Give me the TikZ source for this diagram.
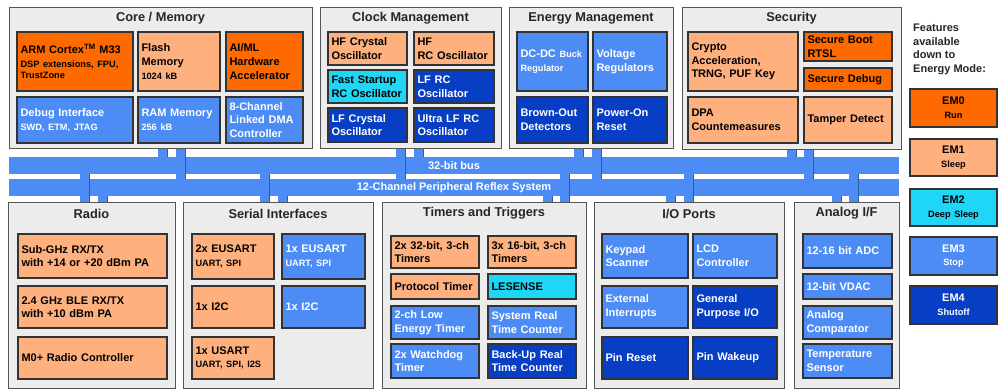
\documentclass[tikz,border=0pt]{standalone}
\usepackage{fontspec}
\setmainfont{Liberation Sans}
\usetikzlibrary{backgrounds}
\definecolor{panelfill}{HTML}{ECECEC}
\definecolor{paneledge}{HTML}{555555}
\definecolor{boxedge}{HTML}{333333}
\definecolor{emzero}{HTML}{FF6A00}
\definecolor{emone}{HTML}{FFB07F}
\definecolor{emtwo}{HTML}{20D6F7}
\definecolor{emthree}{HTML}{4D8CF5}
\definecolor{emfour}{HTML}{073EC4}
\definecolor{busblue}{HTML}{4D8CF5}

\tikzset{
  group/.style={draw=paneledge,fill=panelfill,line width=1pt,inner sep=0pt},
  gtitle/.style={font=\fontsize{12.8}{14}\selectfont\bfseries,text=black!85,inner sep=0pt},
  unit/.style={draw=boxedge,line width=1.3pt,inner xsep=3.5pt,inner ysep=0pt,align=left,
    font=\fontsize{11}{13.7}\selectfont\bfseries},
  m-run/.style={unit,fill=emzero},
  m-sleep/.style={unit,fill=emone},
  m-deep/.style={unit,fill=emtwo},
  m-stop/.style={unit,fill=emthree,text=white},
  m-off/.style={unit,fill=emfour,text=white},
  emkey/.style={align=center},
  modenote/.style={anchor=north west,align=left,inner sep=0pt,
    font=\fontsize{11}{13.5}\selectfont\bfseries,text=black!85},
  bus/.style={fill=busblue,minimum width=890pt,minimum height=17pt,inner sep=0pt,
    text=white,font=\fontsize{11}{13}\selectfont\bfseries},
  stubshade/.style={draw=busblue!65!black,line width=0.7pt}
}

\newcommand{\subf}{\fontsize{9.2}{11}\selectfont}
% box from (x1,y1) to (x2,y2): name, x1, y1, x2, y2, style, text
\newcommand{\unitbox}[7]{%
  \pgfmathsetmacro{\bxw}{#4-#2-7}%
  \pgfmathsetmacro{\bxh}{#5-#3}%
  \node[#6,text width=\bxw pt,minimum height=\bxh pt] (#1) at ({(#2+#4)/2},{(#3+#5)/2}) {#7};}
% grey panel with its heading
\newcommand{\groupbox}[6]{%
  \pgfmathsetmacro{\bxw}{#4-#2}%
  \pgfmathsetmacro{\bxh}{#5-#3}%
  \node[group,minimum width=\bxw pt,minimum height=\bxh pt] (#1) at ({(#2+#4)/2},{(#3+#5)/2}) {};
  \node[gtitle] (#1-title) at ({(#2+#4)/2},#3+11.5) {#6};}
% vertical bus tap
\newcommand{\busstub}[3]{%
  \pgfmathsetmacro{\sxr}{#1+9}%
  \fill[busblue] (#1,0 |- #2) rectangle (\sxr,0 |- #3);
  \draw[stubshade] (\sxr,0 |- #2) -- (\sxr,0 |- #3);}

\begin{document}
\begin{tikzpicture}[x=1pt,y=-1pt]
  \useasboundingbox (0,0) rectangle (1004,391);

  % top row
  \groupbox{core}{9}{7}{312}{148}{Core / Memory}
  \unitbox{cortex}{17}{32}{133}{91}{m-run}{ARM Cortex\textsuperscript{TM} M33\\{\subf DSP extensions, FPU,}\\[-2.5pt]{\subf TrustZone}}
  \unitbox{flash}{138}{32}{220}{91}{m-sleep}{Flash\\Memory\\{\subf 1024 kB}}
  \unitbox{aiml}{226}{32}{303}{91}{m-run}{AI/ML\\Hardware\\Accelerator}
  \unitbox{debug}{17}{97}{133}{143}{m-stop}{Debug Interface\\{\subf SWD, ETM, JTAG}}
  \unitbox{ram}{138}{97}{220}{143}{m-stop}{RAM Memory\\{\subf 256 kB}}
  \unitbox{dma}{226}{97}{303}{143}{m-stop}{8-Channel\\Linked DMA\\Controller}

  \groupbox{clock}{320}{7}{501}{148}{Clock Management}
  \unitbox{hfxo}{328}{32}{407}{65}{m-sleep}{HF Crystal\\Oscillator}
  \unitbox{hfrco}{414}{32}{494}{65}{m-sleep}{HF\\RC Oscillator}
  \unitbox{fsrco}{328}{70}{407}{103}{m-deep}{Fast Startup\\RC Oscillator}
  \unitbox{lfrco}{414}{70}{494}{103}{m-off}{LF RC\\Oscillator}
  \unitbox{lfxo}{328}{108}{407}{142}{m-off}{LF Crystal\\Oscillator}
  \unitbox{ulfrco}{414}{108}{494}{142}{m-off}{Ultra LF RC\\Oscillator}

  \groupbox{energy}{509}{7}{673}{148}{Energy Management}
  \unitbox{dcdc}{517}{32}{588}{91}{m-stop}{DC-DC {\subf Buck}\\{\subf Regulator}}
  \unitbox{vreg}{593}{32}{667}{91}{m-stop}{Voltage\\Regulators}
  \unitbox{bod}{517}{97}{588}{143}{m-off}{Brown-Out\\Detectors}
  \unitbox{por}{593}{97}{667}{143}{m-off}{Power-On\\Reset}

  \groupbox{security}{682}{7}{901}{149}{Security}
  \unitbox{crypto}{688}{32}{798}{91}{m-sleep}{Crypto\\Acceleration,\\TRNG, PUF Key}
  \unitbox{sboot}{804}{32}{892}{61}{m-run}{Secure Boot\\RTSL}
  \unitbox{sdebug}{804}{68}{892}{91}{m-run}{Secure Debug}
  \unitbox{dpa}{688}{97}{798}{143}{m-sleep}{DPA\\Countemeasures}
  \unitbox{tamper}{804}{97}{892}{143}{m-sleep}{Tamper Detect}

  % bottom row
  \groupbox{radio}{8}{202}{175}{388}{Radio}
  \unitbox{subghz}{18}{234}{167}{278}{m-sleep}{Sub-GHz RX/TX\\with +14 or +20 dBm PA}
  \unitbox{ble}{18}{286}{167}{328}{m-sleep}{2.4 GHz BLE RX/TX\\with +10 dBm PA}
  \unitbox{mzero}{18}{337}{167}{379}{m-sleep}{M0+ Radio Controller}

  \groupbox{serial}{183}{202}{373}{388}{Serial Interfaces}
  \unitbox{eusartA}{192}{234}{274}{279}{m-sleep}{2x EUSART\\{\subf UART, SPI}}
  \unitbox{eusartB}{282}{234}{365}{279}{m-stop}{1x EUSART\\{\subf UART, SPI}}
  \unitbox{iicA}{192}{286}{274}{328}{m-sleep}{1x I2C}
  \unitbox{iicB}{282}{286}{365}{328}{m-stop}{1x I2C}
  \unitbox{usart}{192}{337}{274}{379}{m-sleep}{1x USART\\{\subf UART, SPI, I2S}}

  \groupbox{timers}{382}{202}{586}{388}{Timers and Triggers}
  \unitbox{timerA}{391}{236}{479}{268}{m-sleep}{2x 32-bit, 3-ch\\Timers}
  \unitbox{timerB}{488}{236}{576}{268}{m-sleep}{3x 16-bit, 3-ch\\Timers}
  \unitbox{prot}{391}{274}{479}{299}{m-sleep}{Protocol Timer}
  \unitbox{lesense}{488}{274}{576}{299}{m-deep}{LESENSE}
  \unitbox{letimer}{391}{306}{479}{339}{m-stop}{2-ch Low\\Energy Timer}
  \unitbox{sysrtc}{488}{306}{576}{339}{m-stop}{System Real\\Time Counter}
  \unitbox{wdog}{391}{344}{479}{378}{m-stop}{2x Watchdog\\Timer}
  \unitbox{burtc}{488}{344}{576}{378}{m-off}{Back-Up Real\\Time Counter}

  \groupbox{ioports}{594}{202}{784}{388}{I/O Ports}
  \unitbox{keypad}{602}{234}{688}{278}{m-stop}{Keypad\\Scanner}
  \unitbox{lcd}{693}{234}{777}{278}{m-stop}{LCD\\Controller}
  \unitbox{extint}{602}{286}{688}{328}{m-stop}{External\\Interrupts}
  \unitbox{gpio}{693}{286}{777}{328}{m-off}{General\\Purpose I/O}
  \unitbox{pinrst}{602}{337}{688}{379}{m-off}{Pin Reset}
  \unitbox{pinwake}{693}{337}{777}{379}{m-off}{Pin Wakeup}

  \groupbox{analog}{794}{202}{899}{388}{Analog I/F}
  \unitbox{adc}{803}{234}{892}{268}{m-stop}{12-16 bit ADC}
  \unitbox{vdac}{803}{274}{892}{299}{m-stop}{12-bit VDAC}
  \unitbox{acmp}{803}{306}{892}{339}{m-stop}{Analog\\Comparator}
  \unitbox{temp}{803}{344}{892}{378}{m-stop}{Temperature\\Sensor}

  % energy mode key
  \node[modenote] (modes) at (913,24) {Features\\available\\down to\\Energy Mode:};
  \unitbox{em0}{910}{89}{997}{127}{m-run,emkey}{EM0\\{\subf Run}}
  \unitbox{em1}{910}{139}{997}{176}{m-sleep,emkey}{EM1\\{\subf Sleep}}
  \unitbox{em2}{910}{189}{997}{226}{m-deep,emkey}{EM2\\{\subf Deep Sleep}}
  \unitbox{em3}{910}{237}{997}{275}{m-stop,emkey}{EM3\\{\subf Stop}}
  \unitbox{em4}{910}{286}{997}{324}{m-off,emkey}{EM4\\{\subf Shutoff}}

  % buses and taps
  \begin{scope}[on background layer]
    \fill[white] (0,0) rectangle (1004,391);
    \node[bus] (bus32) at (454,165.5) {32-bit bus};
    \node[bus] (bus12) at (454,187.5) {12-Channel Peripheral Reflex System};
    \foreach \sx/\from/\to in {158/core.south/bus32.north, 176/core.south/bus12.north,
        396/clock.south/bus12.north, 414/clock.south/bus32.north,
        574/energy.south/bus32.north, 592/energy.south/bus12.north,
        787/security.south/bus32.north, 804/security.south/bus12.north,
        80/bus32.south/radio.north, 98/bus12.south/radio.north,
        260/bus32.south/serial.north, 278/bus12.south/serial.north,
        543/bus12.south/timers.north, 560/bus32.south/timers.north,
        666/bus12.south/ioports.north, 684/bus32.south/ioports.north,
        832/bus12.south/analog.north, 849/bus32.south/analog.north}
      {\busstub{\sx}{\from}{\to}}
  \end{scope}
\end{tikzpicture}
\end{document}
